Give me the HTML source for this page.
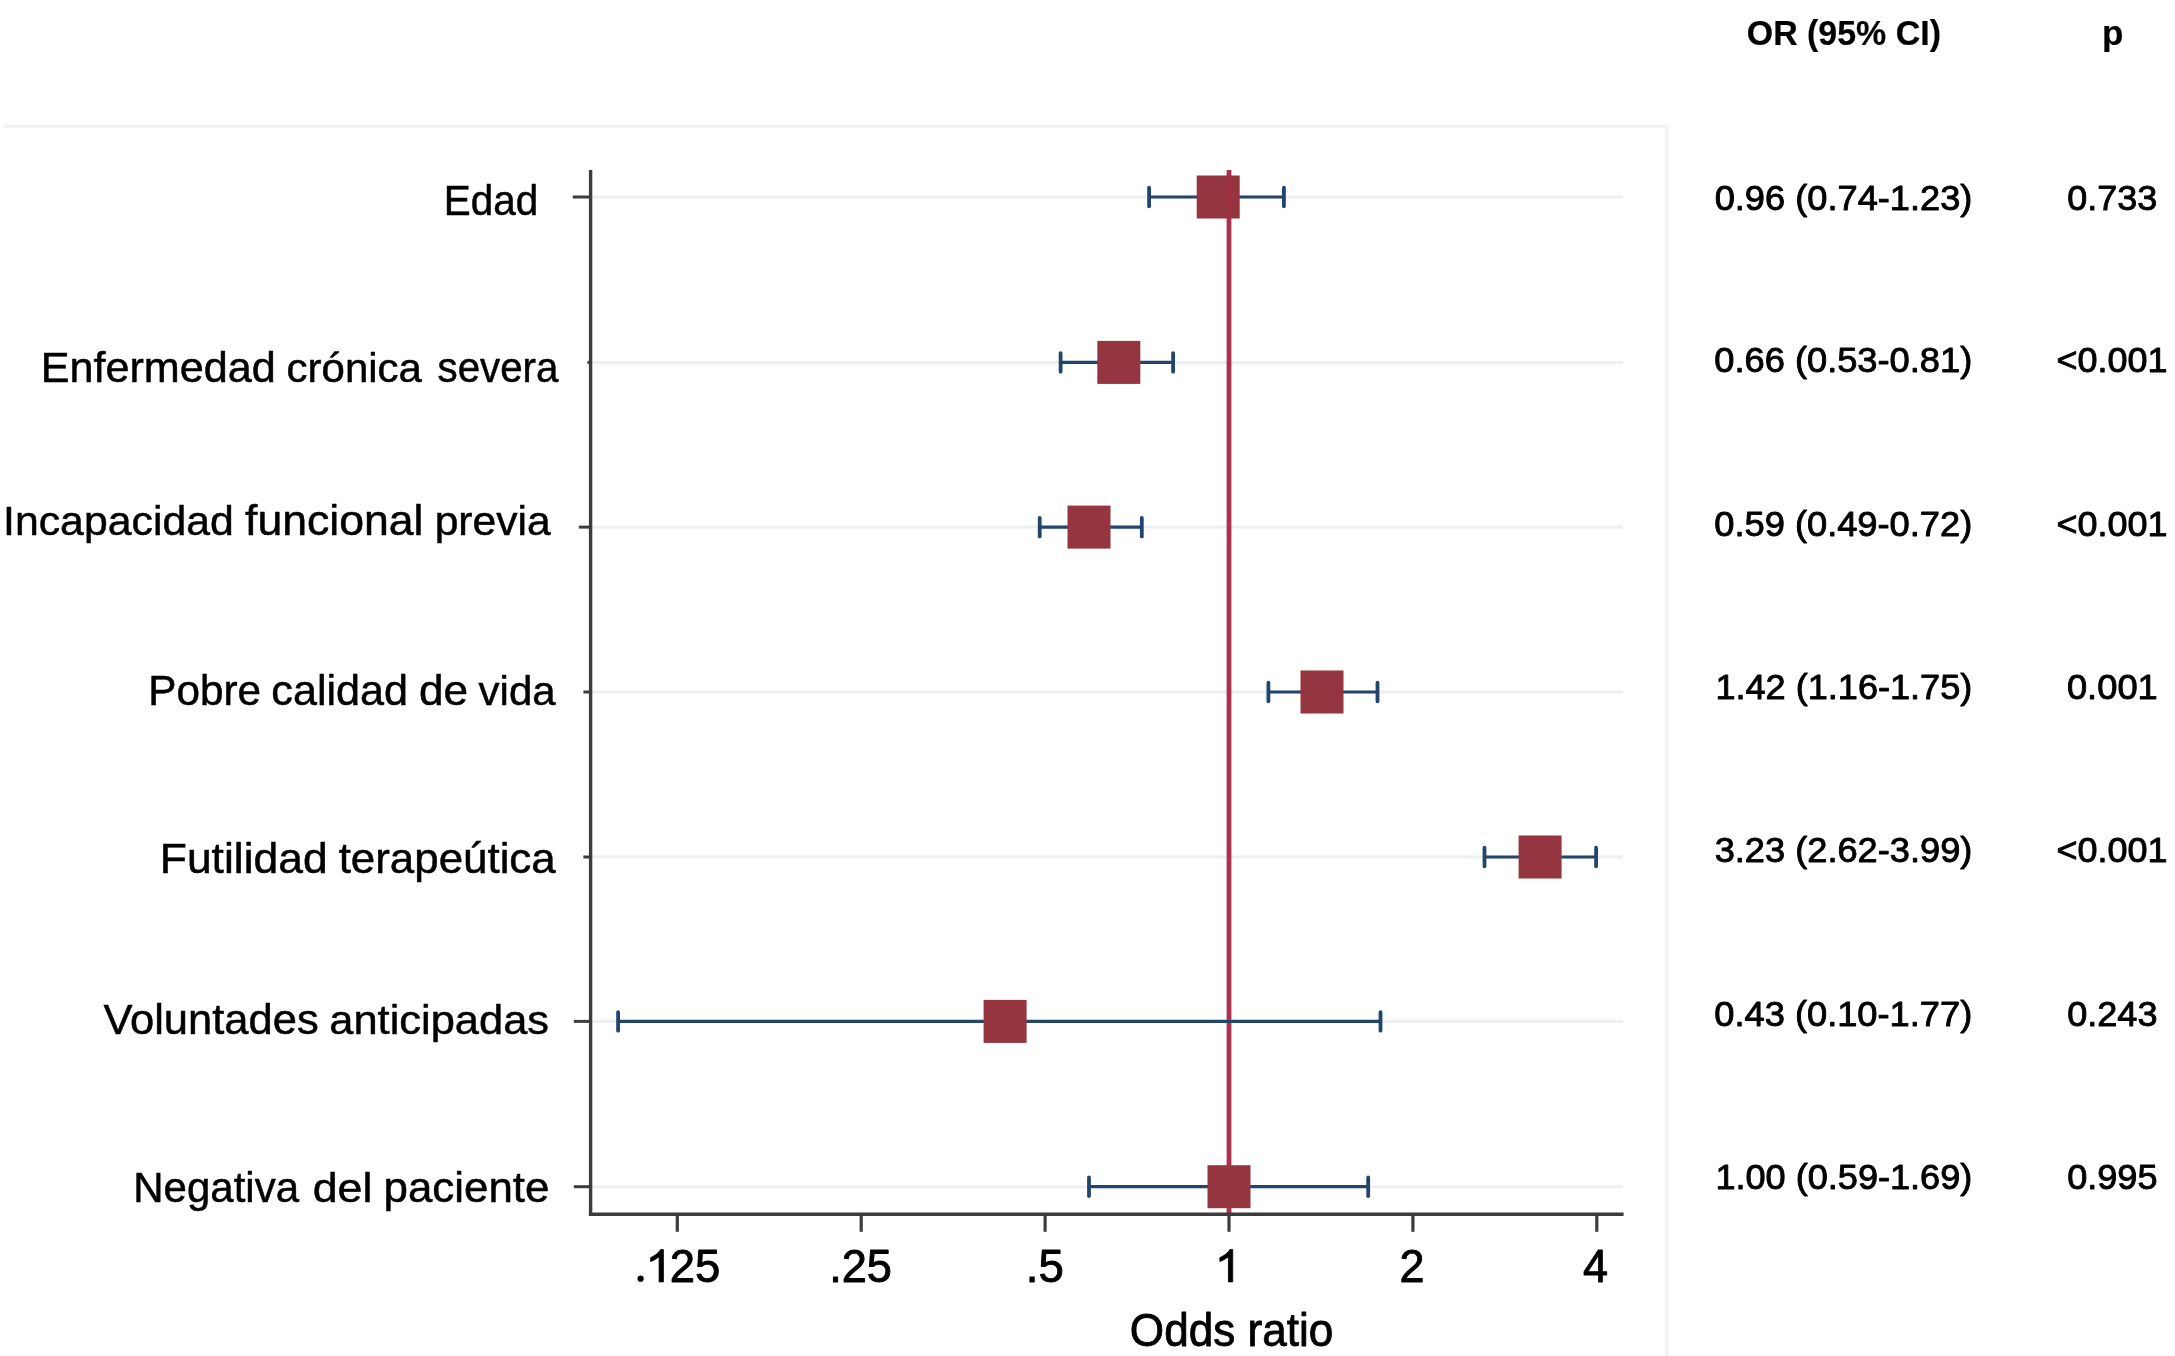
<!DOCTYPE html>
<html><head><meta charset="utf-8"><title>Forest plot</title>
<style>
html,body{margin:0;padding:0;background:#fff;}
body{width:2175px;height:1356px;overflow:hidden;}
svg{display:block;filter:blur(0.55px);}
text{font-family:"Liberation Sans",sans-serif;fill:#000;}
</style></head><body>
<svg width="2175" height="1356" viewBox="0 0 2175 1356">
<rect x="0" y="0" width="2175" height="1356" fill="#ffffff"/>
<line x1="4.5" y1="126.4" x2="1668.6" y2="126.4" stroke="#f1f1f5" stroke-width="3.4"/>
<line x1="1666.7" y1="124.6" x2="1666.7" y2="1356" stroke="#f3f4f5" stroke-width="3.6"/>

<g stroke="#edeff1" stroke-width="3">
<line x1="592" y1="197.0" x2="1623" y2="197.0"/>
<line x1="592" y1="362.4" x2="1623" y2="362.4"/>
<line x1="592" y1="527.1" x2="1623" y2="527.1"/>
<line x1="592" y1="692.0" x2="1623" y2="692.0"/>
<line x1="592" y1="857.0" x2="1623" y2="857.0"/>
<line x1="592" y1="1021.4" x2="1623" y2="1021.4"/>
<line x1="592" y1="1186.7" x2="1623" y2="1186.7"/>
</g>
<line x1="1229" y1="170" x2="1229" y2="1214" stroke="#aa3250" stroke-width="4.8"/>
<g stroke="#22456b" stroke-width="3.2" fill="none">
<line x1="1149.1" y1="197.0" x2="1283.9" y2="197.0"/>
<line x1="1149.1" y1="187.7" x2="1149.1" y2="206.3" stroke-width="3.8" stroke-linecap="round"/>
<line x1="1283.9" y1="187.7" x2="1283.9" y2="206.3" stroke-width="3.8" stroke-linecap="round"/>
<line x1="1060.6" y1="362.4" x2="1173.1" y2="362.4"/>
<line x1="1060.6" y1="353.09999999999997" x2="1060.6" y2="371.7" stroke-width="3.8" stroke-linecap="round"/>
<line x1="1173.1" y1="353.09999999999997" x2="1173.1" y2="371.7" stroke-width="3.8" stroke-linecap="round"/>
<line x1="1039.7" y1="527.1" x2="1141.8" y2="527.1"/>
<line x1="1039.7" y1="517.8000000000001" x2="1039.7" y2="536.4" stroke-width="3.8" stroke-linecap="round"/>
<line x1="1141.8" y1="517.8000000000001" x2="1141.8" y2="536.4" stroke-width="3.8" stroke-linecap="round"/>
<line x1="1268.4" y1="692.0" x2="1377.5" y2="692.0"/>
<line x1="1268.4" y1="682.7" x2="1268.4" y2="701.3" stroke-width="3.8" stroke-linecap="round"/>
<line x1="1377.5" y1="682.7" x2="1377.5" y2="701.3" stroke-width="3.8" stroke-linecap="round"/>
<line x1="1484.5" y1="857.0" x2="1596.1" y2="857.0"/>
<line x1="1484.5" y1="847.7" x2="1484.5" y2="866.3" stroke-width="3.8" stroke-linecap="round"/>
<line x1="1596.1" y1="847.7" x2="1596.1" y2="866.3" stroke-width="3.8" stroke-linecap="round"/>
<line x1="618.1" y1="1021.4" x2="1380.5" y2="1021.4"/>
<line x1="618.1" y1="1012.1" x2="618.1" y2="1030.7" stroke-width="3.8" stroke-linecap="round"/>
<line x1="1380.5" y1="1012.1" x2="1380.5" y2="1030.7" stroke-width="3.8" stroke-linecap="round"/>
<line x1="1089.0" y1="1186.7" x2="1368.2" y2="1186.7"/>
<line x1="1089.0" y1="1177.4" x2="1089.0" y2="1196.0" stroke-width="3.8" stroke-linecap="round"/>
<line x1="1368.2" y1="1177.4" x2="1368.2" y2="1196.0" stroke-width="3.8" stroke-linecap="round"/>
</g>
<g fill="#94353f">
<rect x="1196.7" y="175.5" width="43.0" height="43.0"/>
<rect x="1097.3" y="340.9" width="43.0" height="43.0"/>
<rect x="1067.5" y="505.6" width="43.0" height="43.0"/>
<rect x="1300.5" y="670.5" width="43.0" height="43.0"/>
<rect x="1518.6" y="835.5" width="43.0" height="43.0"/>
<rect x="983.6" y="999.9" width="43.0" height="43.0"/>
<rect x="1207.5" y="1165.2" width="43.0" height="43.0"/>
</g>
<line x1="1229" y1="175.5" x2="1229" y2="218.5" stroke="#a52c3c" stroke-width="4.8" opacity="0.55"/>
<g stroke="#3c3c3e" stroke-width="3.4" fill="none">
<line x1="590.6" y1="170" x2="590.6" y2="1215.9"/>
<line x1="588.9" y1="1214.2" x2="1623.6" y2="1214.2"/>
<line x1="572.8" y1="197.0" x2="590.6" y2="197.0" stroke-width="3"/>
<line x1="587.4" y1="362.4" x2="590.6" y2="362.4" stroke-width="3"/>
<line x1="578.8" y1="527.1" x2="590.6" y2="527.1" stroke-width="3"/>
<line x1="583.4" y1="692.0" x2="590.6" y2="692.0" stroke-width="3"/>
<line x1="583.4" y1="857.0" x2="590.6" y2="857.0" stroke-width="3"/>
<line x1="573.8" y1="1021.4" x2="590.6" y2="1021.4" stroke-width="3"/>
<line x1="573.8" y1="1186.7" x2="590.6" y2="1186.7" stroke-width="3"/>
<line x1="677.3" y1="1214.2" x2="677.3" y2="1231.8" stroke-width="3.2"/>
<line x1="861.2" y1="1214.2" x2="861.2" y2="1231.8" stroke-width="3.2"/>
<line x1="1045.1" y1="1214.2" x2="1045.1" y2="1231.8" stroke-width="3.2"/>
<line x1="1229.0" y1="1214.2" x2="1229.0" y2="1231.8" stroke-width="3.2"/>
<line x1="1412.9" y1="1214.2" x2="1412.9" y2="1231.8" stroke-width="3.2"/>
<line x1="1596.8" y1="1214.2" x2="1596.8" y2="1231.8" stroke-width="3.2"/>
</g>
<text transform="translate(443.66,214.8) scale(0.9728,1)" font-size="41.6" stroke="#000" stroke-width="0.5" stroke-linejoin="round">Edad</text>
<text transform="translate(40.65,381.7) scale(1.0374,1)" font-size="41.6" stroke="#000" stroke-width="0.5" stroke-linejoin="round">Enfermedad</text>
<text transform="translate(286.62,381.7) scale(1.0091,1)" font-size="41.6" stroke="#000" stroke-width="0.5" stroke-linejoin="round">crónica</text>
<text transform="translate(437.59,381.7) scale(0.9679,1)" font-size="41.6" stroke="#000" stroke-width="0.5" stroke-linejoin="round">severa</text>
<text transform="translate(3.05,534.5) scale(1.0286,1)" font-size="41.6" stroke="#000" stroke-width="0.5" stroke-linejoin="round">Incapacidad</text>
<text transform="translate(245.05,534.5) scale(1.0714,1)" font-size="41.6" stroke="#000" stroke-width="0.5" stroke-linejoin="round">funcional</text>
<text transform="translate(434.64,534.5) scale(1.0246,1)" font-size="41.6" stroke="#000" stroke-width="0.5" stroke-linejoin="round">previa</text>
<text transform="translate(148.32,704.7) scale(1.0154,1)" font-size="41.6" stroke="#000" stroke-width="0.5" stroke-linejoin="round">Pobre</text>
<text transform="translate(271.37,704.7) scale(1.0375,1)" font-size="41.6" stroke="#000" stroke-width="0.5" stroke-linejoin="round">calidad</text>
<text transform="translate(418.93,704.7) scale(1.0607,1)" font-size="41.6" stroke="#000" stroke-width="0.5" stroke-linejoin="round">de</text>
<text transform="translate(478.60,704.7) scale(1.0108,1)" font-size="41.6" stroke="#000" stroke-width="0.5" stroke-linejoin="round">vida</text>
<text transform="translate(159.74,873.3) scale(1.0683,1)" font-size="41.6" stroke="#000" stroke-width="0.5" stroke-linejoin="round">Futilidad</text>
<text transform="translate(338.64,873.3) scale(1.0547,1)" font-size="41.6" stroke="#000" stroke-width="0.5" stroke-linejoin="round">terapeútica</text>
<text transform="translate(103.40,1033.9) scale(1.0459,1)" font-size="41.6" stroke="#000" stroke-width="0.5" stroke-linejoin="round">Voluntades</text>
<text transform="translate(329.26,1033.9) scale(1.0447,1)" font-size="41.6" stroke="#000" stroke-width="0.5" stroke-linejoin="round">anticipadas</text>
<text transform="translate(133.24,1202.3) scale(1.0104,1)" font-size="41.6" stroke="#000" stroke-width="0.5" stroke-linejoin="round">Negativa</text>
<text transform="translate(312.71,1202.3) scale(1.0768,1)" font-size="41.6" stroke="#000" stroke-width="0.5" stroke-linejoin="round">del</text>
<text transform="translate(383.57,1202.3) scale(1.0544,1)" font-size="41.6" stroke="#000" stroke-width="0.5" stroke-linejoin="round">paciente</text>
<text transform="translate(1714.63,210.3) scale(1.0208,1)" font-size="35.5" stroke="#000" stroke-width="0.9" stroke-linejoin="round">0.96 (0.74-1.23)</text>
<text transform="translate(2067.34,210.3) scale(1.0135,1)" font-size="35.5" stroke="#000" stroke-width="0.9" stroke-linejoin="round">0.733</text>
<text transform="translate(1714.23,371.7) scale(1.0220,1)" font-size="35.5" stroke="#000" stroke-width="0.9" stroke-linejoin="round">0.66 (0.53-0.81)</text>
<text transform="translate(2056.58,371.7) scale(1.0138,1)" font-size="35.5" stroke="#000" stroke-width="0.9" stroke-linejoin="round">&lt;0.001</text>
<text transform="translate(1714.23,535.6) scale(1.0220,1)" font-size="35.5" stroke="#000" stroke-width="0.9" stroke-linejoin="round">0.59 (0.49-0.72)</text>
<text transform="translate(2056.58,535.6) scale(1.0138,1)" font-size="35.5" stroke="#000" stroke-width="0.9" stroke-linejoin="round">&lt;0.001</text>
<text transform="translate(1715.39,698.8) scale(1.0170,1)" font-size="35.5" stroke="#000" stroke-width="0.9" stroke-linejoin="round">1.42 (1.16-1.75)</text>
<text transform="translate(2066.93,698.8) scale(1.0226,1)" font-size="35.5" stroke="#000" stroke-width="0.9" stroke-linejoin="round">0.001</text>
<text transform="translate(1714.63,861.7) scale(1.0204,1)" font-size="35.5" stroke="#000" stroke-width="0.9" stroke-linejoin="round">3.23 (2.62-3.99)</text>
<text transform="translate(2056.58,861.7) scale(1.0138,1)" font-size="35.5" stroke="#000" stroke-width="0.9" stroke-linejoin="round">&lt;0.001</text>
<text transform="translate(1714.23,1025.6) scale(1.0220,1)" font-size="35.5" stroke="#000" stroke-width="0.9" stroke-linejoin="round">0.43 (0.10-1.77)</text>
<text transform="translate(2067.14,1025.6) scale(1.0170,1)" font-size="35.5" stroke="#000" stroke-width="0.9" stroke-linejoin="round">0.243</text>
<text transform="translate(1715.39,1188.8) scale(1.0174,1)" font-size="35.5" stroke="#000" stroke-width="0.9" stroke-linejoin="round">1.00 (0.59-1.69)</text>
<text transform="translate(2067.14,1188.8) scale(1.0170,1)" font-size="35.5" stroke="#000" stroke-width="0.9" stroke-linejoin="round">0.995</text>
<text transform="translate(1746.74,45.3) scale(0.9644,1)" font-size="35.2" font-weight="bold" stroke="#000" stroke-width="0.2" stroke-linejoin="round">OR (95% CI)</text>
<text transform="translate(2102.12,45.3) scale(0.9957,1)" font-size="35.2" font-weight="bold" stroke="#000" stroke-width="0.2" stroke-linejoin="round">p</text>
<text transform="translate(669.83,1281.7) scale(1.0098,1.03)" font-size="45.0" stroke="#000" stroke-width="0.9" stroke-linejoin="round">25</text>
<text transform="translate(829.13,1281.7) scale(1.0043,1.03)" font-size="45.0" stroke="#000" stroke-width="0.9" stroke-linejoin="round">.25</text>
<text transform="translate(1025.80,1281.7) scale(1.0118,1.03)" font-size="45.0" stroke="#000" stroke-width="0.9" stroke-linejoin="round">.5</text>
<text transform="translate(1399.45,1281.7) scale(1.0000,1.03)" font-size="45.0" stroke="#000" stroke-width="0.9" stroke-linejoin="round">2</text>
<text transform="translate(1582.92,1281.7) scale(1.0000,1.03)" font-size="45.0" stroke="#000" stroke-width="0.9" stroke-linejoin="round">4</text>
<text transform="translate(1129.81,1346.4) scale(1.0030,1.03)" font-size="44.0" stroke="#000" stroke-width="0.8" stroke-linejoin="round">Odds ratio</text>
<circle cx="640.6" cy="1278.7" r="3.1" fill="#000"/>
<path d="M763 0H583V1147Q518 1085 412.5 1023Q307 961 223 930V1104Q374 1175 487 1276Q600 1377 647 1472H763Z" transform="translate(645.29,1281.9) scale(0.023730,-0.021973)" fill="#000" stroke="#000" stroke-width="36" stroke-linejoin="round"/>
<path d="M763 0H583V1147Q518 1085 412.5 1023Q307 961 223 930V1104Q374 1175 487 1276Q600 1377 647 1472H763Z" transform="translate(1214.59,1281.9) scale(0.023730,-0.021973)" fill="#000" stroke="#000" stroke-width="36" stroke-linejoin="round"/>
</svg></body></html>
